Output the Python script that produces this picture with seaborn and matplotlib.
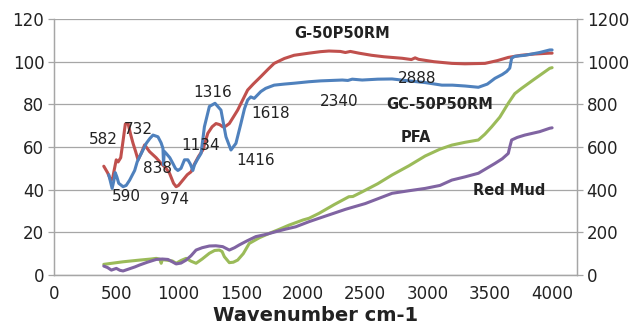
import numpy as np
import pandas as pd
import seaborn as sns
import matplotlib
matplotlib.use("Agg")
import matplotlib.pyplot as plt

# FTIR transmittance spectra (left axis: G-50P50RM, GC-50P50RM; right axis: PFA, Red Mud)
wn_g = [400, 430, 456, 470, 483, 500, 515, 536, 555, 573, 595, 615, 635, 655, 675, 700, 728,
        768, 820, 861, 900, 928, 960, 981, 1000, 1035, 1070, 1101, 1128, 1160, 1195, 1235,
        1270, 1301, 1330, 1355, 1380, 1408, 1440, 1475, 1515, 1555, 1600, 1661, 1720, 1768,
        1850, 1928, 2048, 2141, 2208, 2300, 2340, 2380, 2448, 2550, 2650, 2795, 2870, 2900,
        2928, 3050, 3195, 3300, 3461, 3560, 3648, 3750, 3861, 3981, 4000]
t_g = [51, 48, 44.5, 45, 49, 54, 53, 55, 63, 70.8, 71, 66, 61.7, 58, 54, 57, 61,
       57.8, 55, 52.3, 50, 47.7, 43, 41.4, 42, 44.5, 47, 48.4, 52, 55.5, 58.6, 66.4,
       69.5, 71, 70.5, 69.5, 69.8, 71, 74, 77.3, 82, 86.7, 89.5, 93, 96.5, 99.2,
       101.5, 103, 104, 104.7, 105, 104.8, 104.3, 104.8, 104, 103, 102.3, 101.6, 101, 101.8,
       101.1, 100, 99.2, 99, 99.2, 100.5, 102, 103, 103.6, 104, 104]

wn_gc = [440, 467, 480, 492, 505, 520, 555, 580, 608, 630, 648, 668, 688, 710, 741, 770, 795,
         835, 860, 875, 880, 885, 901, 930, 955, 975, 995, 1020, 1048, 1075, 1095, 1115, 1128,
         1150, 1181, 1208, 1248, 1293, 1341, 1381, 1421, 1461, 1501, 1530, 1555, 1580, 1608,
         1661, 1700, 1768, 1850, 1928, 2048, 2141, 2315, 2360, 2395, 2475, 2600, 2715, 2850,
         2981, 3115, 3200, 3301, 3408, 3480, 3541, 3600, 3635, 3660, 3675, 3700, 3781, 3900,
         3981, 4000]
t_gc = [47, 40.6, 44, 48, 46, 43, 41.4, 42, 44.5, 47, 49, 53, 55.5, 58, 61.7, 64, 65.6,
        64.8, 62, 59.4, 51.6, 58, 57, 55, 52.3, 50, 49, 50, 54, 54, 52, 49, 51.6,
        54, 57, 69.5, 79, 80.5, 77.3, 64.8, 58.6, 61.7, 71, 78, 82, 83.5, 82.8,
        86, 87.5, 89, 89.5, 89.9, 90.6, 91, 91.4, 91.2, 91.8, 91.4, 91.8, 91.9, 91,
        90.2, 89, 89, 88.6, 88, 89.5, 92.2, 94, 95.4, 97, 101.6, 102.5, 103, 104.3,
        105.5, 105.5]

wn_pfa = [400, 555, 688, 780, 821, 850, 861, 870, 901, 950, 981, 1020, 1061, 1100, 1141, 1190,
          1248, 1290, 1328, 1350, 1368, 1408, 1440, 1475, 1520, 1568, 1650, 1728, 1800, 1888,
          2000, 2048, 2128, 2250, 2368, 2400, 2475, 2600, 2715, 2850, 2981, 3100, 3195, 3300,
          3408, 3460, 3515, 3580, 3648, 3700, 3755, 3850, 3981, 4000]
t_pfa = [50, 62, 70, 75, 78, 74, 55, 72, 70, 66, 55, 68, 78, 65, 55, 75,
         102, 115, 117, 110, 86, 58, 60, 70, 100, 148, 175, 195, 212, 234,
         258, 266, 289, 330, 367, 368, 390, 428, 469, 512, 558, 590, 609, 622,
         633, 660, 695, 740, 805, 850, 875, 915, 969, 972]

wn_rm = [400, 430, 461, 485, 501, 530, 555, 600, 650, 688, 750, 821, 870, 915, 950, 981, 1020,
         1061, 1100, 1141, 1190, 1248, 1300, 1355, 1408, 1450, 1488, 1550, 1621, 1700, 1781,
         1860, 1941, 2048, 2128, 2250, 2341, 2500, 2715, 2850, 2981, 3100, 3195, 3300, 3408,
         3541, 3600, 3648, 3660, 3675, 3720, 3781, 3900, 3981, 4000]
t_rm = [42, 35, 23, 28, 31, 22, 19, 28, 38, 47, 60, 73, 75, 73, 62, 52, 56,
        70, 90, 117, 128, 136, 137, 133, 117, 128, 141, 160, 180, 190, 203,
        215, 226, 250, 266, 290, 308, 335, 383, 395, 406, 420, 445, 460, 477,
        523, 545, 570, 600, 633, 645, 656, 672, 688, 690]

# Peak labels (wavenumber text, position in left-axis units)
peak_labels = ["582", "732", "838", "590", "974", "1134", "1316", "1618", "1416", "2340", "2888"]
peak_x = [400, 675, 829, 581, 968, 1176, 1277, 1741, 1621, 2288, 2915]
peak_y = [63.3, 68.3, 50, 36.7, 35.2, 60.6, 85.5, 75.5, 53.9, 81.3, 92.2]

series_names = ["G-50P50RM", "GC-50P50RM", "PFA", "Red Mud"]
name_x = [2312, 3096, 2904, 3659]
name_y = [113.3, 79.7, 64.5, 39.5]

colors = {"G-50P50RM": "#C0504D", "GC-50P50RM": "#4F81BD",
          "PFA": "#9BBB59", "Red Mud": "#8064A2"}

sns.set_style("white")
plt.rcParams['font.family'] = ['DejaVu Sans']

fig = plt.figure(figsize=(6.32, 3.25), dpi=100)
ax = fig.add_axes([0.0854, 0.1538, 0.9130 - 0.0854, 0.9415 - 0.1538])
ax2 = ax.twinx()

left_df = pd.concat([
    pd.DataFrame({"wn": wn_g, "T": t_g, "sample": "G-50P50RM"}),
    pd.DataFrame({"wn": wn_gc, "T": t_gc, "sample": "GC-50P50RM"}),
])
right_df = pd.concat([
    pd.DataFrame({"wn": wn_pfa, "T": t_pfa, "sample": "PFA"}),
    pd.DataFrame({"wn": wn_rm, "T": t_rm, "sample": "Red Mud"}),
])

sns.lineplot(data=left_df, x="wn", y="T", hue="sample", palette=colors, sort=False,
             estimator=None, lw=2.2, ax=ax, legend=False)
sns.lineplot(data=right_df, x="wn", y="T", hue="sample", palette=colors, sort=False,
             estimator=None, lw=2.2, ax=ax2, legend=False)

ax.set_xlim(0, 4200)
ax.set_ylim(0, 120)
ax2.set_ylim(0, 1200)
ax.set_xticks(np.arange(0, 4001, 500))
ax.set_yticks(np.arange(0, 121, 20))
ax2.set_yticks(np.arange(0, 1201, 200))

ax.yaxis.grid(True, color="#a6a6a6", lw=0.9)
ax.set_axisbelow(True)
ax2.grid(False)

for a in (ax, ax2):
    for s in a.spines.values():
        s.set_color("#a6a6a6")
        s.set_linewidth(0.9)
    a.spines["top"].set_visible(False)
    a.tick_params(axis="both", length=4, width=0.9, color="#a6a6a6",
                  labelsize=12, labelcolor="#222222", pad=3)
    a.set_ylabel("")
ax.set_xlabel("Wavenumber cm-1", fontsize=14, fontweight="bold", color="#222222", labelpad=2)

for lab, x, y in zip(peak_labels, peak_x, peak_y):
    ax.text(x, y, lab, fontsize=11, ha="center", va="center", color="#222222")
for lab, x, y in zip(series_names, name_x, name_y):
    ax.text(x, y, lab, fontsize=10.5, fontweight="bold", ha="center", va="center", color="#222222")

fig.savefig("out.png", dpi=100)
